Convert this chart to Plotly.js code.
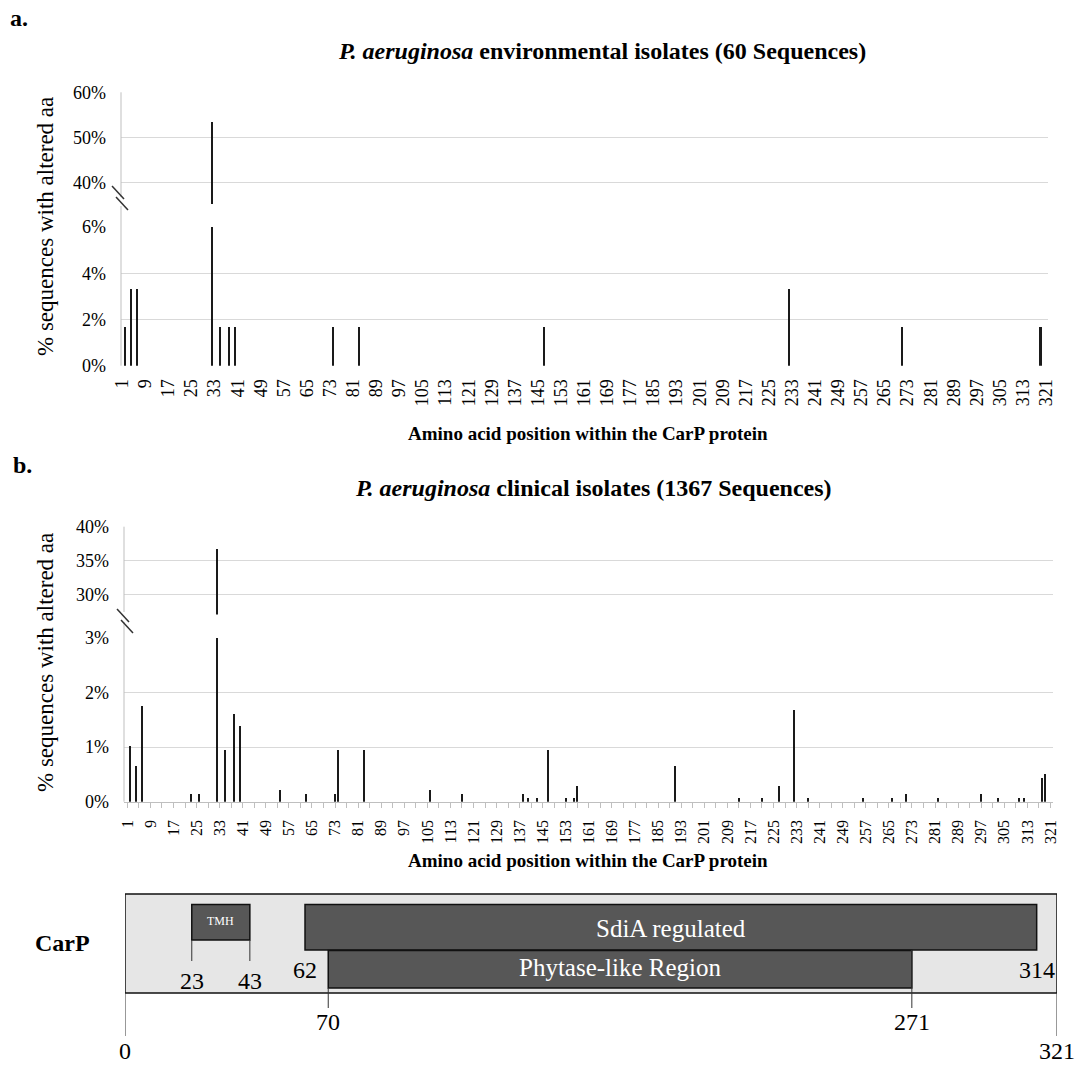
<!DOCTYPE html>
<html>
<head>
<meta charset="utf-8">
<script src="https://cdn.plot.ly/plotly-3.0.1.min.js"></script>
<style>html,body{margin:0;padding:0;background:#fff;}#chart{width:1078px;height:1065px;}</style>
</head>
<body>
<div id="chart"></div>
<script>
// ---------------- DATA ----------------
// Panel a: environmental isolates (60 sequences)
const envPositions = [2, 4, 6, 32, 35, 38, 40, 74, 83, 147, 232, 271, 319];
const envPercent   = [1.67, 3.33, 3.33, 53.33, 1.67, 1.67, 1.67, 1.67, 1.67, 1.67, 3.33, 1.67, 1.67];

// Panel b: clinical isolates (1367 sequences)
const clinPositions = [2, 4, 6, 23, 26, 32, 35, 38, 40, 54, 63, 73, 74, 83,
  106, 117, 138, 140, 143, 147, 153, 156, 157, 191,
  213, 221, 227, 232, 237, 256, 266, 271, 282, 297, 303, 310, 312, 318, 319];
const clinPercent = [1.02, 0.66, 1.76, 0.15, 0.15, 36.72, 0.95, 1.61, 1.39, 0.22, 0.15, 0.15, 0.95, 0.95,
  0.22, 0.15, 0.15, 0.07, 0.07, 0.95, 0.07, 0.07, 0.29, 0.66,
  0.07, 0.07, 0.29, 1.68, 0.07, 0.07, 0.07, 0.15, 0.07, 0.15, 0.07, 0.07, 0.07, 0.44, 0.51];

// x tick labels (every 8th position)
const xTickLabels = ['1','9','17','25','33','41','49','57','65','73','81','89','97','105','113','121',
  '129','137','145','153','161','169','177','185','193','201','209','217','225','233','241','249',
  '257','265','273','281','289','297','305','313','321'];
const xTickValues = xTickLabels.map(Number);

// y tick labels
const aLowTicks = [0, 2, 4, 6];
const aHighTicks = [40, 50, 60];
const bLowTicks = [0, 1, 2, 3];
const bHighTicks = [30, 35, 40];

// CarP protein schematic
const carpLength = 321;
const domainNames  = ['TMH', 'SdiA regulated', 'Phytase-like Region'];
const domainStarts = [23, 62, 70];
const domainEnds   = [43, 314, 271];

// ---------------- LAYOUT HELPERS ----------------
const W = 1078, H = 1065;
const X = px => px / W;
const Y = py => 1 - py / H;
const FONT = 'Liberation Serif, Times New Roman, serif';
const BAR = '#1a1a1a';
const GRID = '#d9d9d9';
const pct = v => v + '%';

function barTrace(xs, ys, xa, ya) {
  return {type: 'bar', x: xs, y: ys, xaxis: xa, yaxis: ya, width: 0.7,
          marker: {color: BAR, line: {width: 0}}, showlegend: false, hoverinfo: 'skip', cliponaxis: true};
}

const data = [
  barTrace(envPositions, envPercent, 'x', 'y'),
  barTrace(envPositions, envPercent, 'x', 'y2'),
  barTrace(clinPositions, clinPercent, 'x2', 'y3'),
  barTrace(clinPositions, clinPercent, 'x2', 'y4'),
  {type: 'scatter', x: [], y: [], xaxis: 'x3', yaxis: 'y5', showlegend: false, hoverinfo: 'skip'}
];

const yCommon = {
  showgrid: true, gridcolor: GRID, gridwidth: 1, zeroline: false, showline: false,
  ticks: '', tickfont: {family: FONT, size: 18, color: '#000'}, ticklabelstandoff: 14, fixedrange: true
};
const xCommon = {
  tickmode: 'array', tickvals: xTickValues, ticktext: xTickLabels, tickangle: -90,
  showgrid: false, zeroline: false, fixedrange: true
};

// shapes
const shapes = [];
function seg(x0, y0, x1, y1, color, width) {
  shapes.push({type: 'line', xref: 'paper', yref: 'paper', x0: X(x0), y0: Y(y0), x1: X(x1), y1: Y(y1),
               line: {color: color, width: width}});
}
// panel a vertical axis with break
seg(121, 92.3, 121, 197, '#bfbfbf', 1);
seg(121, 206, 121, 365.7, '#bfbfbf', 1);
seg(112, 186, 124, 199, '#333', 1.5);
seg(116, 197, 128, 210, '#333', 1.5);
// panel b vertical axis with break
seg(124, 526.7, 124, 612, '#bfbfbf', 1);
seg(124, 622, 124, 801.7, '#bfbfbf', 1);
seg(117, 609, 129, 622, '#333', 1.5);
seg(121, 620, 133, 633, '#333', 1.5);

// CarP schematic (x in protein positions through axis x3)
function rectX(x0, x1, top, bottom, fill, lw) {
  shapes.push({type: 'rect', xref: 'x3', yref: 'paper', x0: x0, x1: x1, y0: Y(bottom), y1: Y(top),
               fillcolor: fill, line: {color: '#111', width: lw}, layer: 'above'});
}
function lineX(xv, top, bottom) {
  shapes.push({type: 'line', xref: 'x3', yref: 'paper', x0: xv, x1: xv, y0: Y(bottom), y1: Y(top),
               line: {color: '#333', width: 1}, layer: 'above'});
}
rectX(0, carpLength, 894, 993, '#e6e6e6', 1.5);
rectX(domainStarts[0], domainEnds[0], 904.5, 940, '#575757', 1.5);
rectX(domainStarts[1], domainEnds[1], 904.5, 950, '#575757', 1.5);
rectX(domainStarts[2], domainEnds[2], 950.5, 988, '#575757', 1.5);
lineX(domainStarts[0], 940, 961);
lineX(domainEnds[0], 940, 961);
lineX(domainStarts[2], 988, 1008);
lineX(domainEnds[2], 950, 1008);
lineX(0, 993, 1036);
lineX(carpLength, 993, 1036);

// annotations
const ann = [];
function txt(text, px, py, size, opts) {
  ann.push(Object.assign({text: text, xref: 'paper', yref: 'paper', x: X(px), y: Y(py),
    xanchor: 'center', yanchor: 'middle', showarrow: false,
    font: {family: FONT, size: size, color: '#000'}}, opts || {}));
}
function txtX(text, xv, py, size, color) {
  ann.push({text: text, xref: 'x3', yref: 'paper', x: xv, y: Y(py), xanchor: 'center', yanchor: 'middle',
    showarrow: false, font: {family: FONT, size: size, color: color || '#000'}});
}
txt('<b>a.</b>', 19, 18, 24);
txt('<b>b.</b>', 22, 465, 24);
txt('<b><i>P. aeruginosa</i> environmental isolates (60 Sequences)</b>', 602, 51, 24);
txt('<b><i>P. aeruginosa</i> clinical isolates (1367 Sequences)</b>', 594, 488, 24);
txt('<b>Amino acid position within the CarP protein</b>', 588, 433, 19);
txt('<b>Amino acid position within the CarP protein</b>', 588, 860, 19);
txt('% sequences with altered aa', 45, 227, 23, {textangle: -90});
txt('% sequences with altered aa', 45, 663, 23, {textangle: -90});
txt('<b>CarP</b>', 62, 943, 24);

txtX(domainNames[0], (domainStarts[0] + domainEnds[0]) / 2, 921, 12, '#fff');
txtX(domainNames[1], (domainStarts[1] + domainEnds[1]) / 2, 928, 25, '#fff');
txtX(domainNames[2], (domainStarts[2] + domainEnds[2]) / 2, 967, 25, '#fff');
txtX(String(domainStarts[0]), domainStarts[0], 981, 24);
txtX(String(domainEnds[0]), domainEnds[0], 981, 24);
txtX(String(domainStarts[1]), domainStarts[1], 970, 24);
txtX(String(domainEnds[1]), domainEnds[1], 970, 24);
txtX(String(domainStarts[2]), domainStarts[2], 1022, 24);
txtX(String(domainEnds[2]), domainEnds[2], 1022, 24);
txtX('0', 0, 1051, 24);
txtX(String(carpLength), carpLength, 1051, 24);

const layout = {
  width: W, height: H, margin: {l: 0, r: 0, t: 0, b: 0},
  paper_bgcolor: '#fff', plot_bgcolor: 'rgba(0,0,0,0)',
  showlegend: false, bargap: 0,
  font: {family: FONT, color: '#000'},
  xaxis: Object.assign({}, xCommon, {domain: [X(121), X(1048)], range: [0.6, 321.6], anchor: 'y',
    ticks: '', showline: false, ticklabelstandoff: 9,
    tickfont: {family: FONT, size: 18, color: '#000'}}),
  yaxis: Object.assign({}, yCommon, {domain: [Y(365.7), Y(227)], range: [0, 6], anchor: 'x',
    tickmode: 'array', tickvals: aLowTicks, ticktext: aLowTicks.map(pct)}),
  yaxis2: Object.assign({}, yCommon, {domain: [Y(203.9), Y(92.3)], range: [35.3, 60], anchor: 'x',
    tickmode: 'array', tickvals: aHighTicks, ticktext: aHighTicks.map(pct)}),
  xaxis2: Object.assign({}, xCommon, {domain: [X(124), X(1053)], range: [-0.15, 321.9], anchor: 'y3',
    showline: true, linecolor: '#bfbfbf', linewidth: 1,
    ticks: 'outside', ticklen: 5, tickcolor: '#bfbfbf', tickwidth: 1, ticklabelstandoff: 6,
    tickfont: {family: FONT, size: 16, color: '#000'},
    minor: {tickmode: 'linear', tick0: 1, dtick: 4, ticks: 'outside', ticklen: 5, tickcolor: '#bfbfbf', tickwidth: 1}}),
  yaxis3: Object.assign({}, yCommon, {domain: [Y(801.7), Y(638)], range: [0, 3], anchor: 'x2',
    tickmode: 'array', tickvals: bLowTicks, ticktext: bLowTicks.map(pct)}),
  yaxis4: Object.assign({}, yCommon, {domain: [Y(614.6), Y(526.7)], range: [27, 40], anchor: 'x2',
    tickmode: 'array', tickvals: bHighTicks, ticktext: bHighTicks.map(pct)}),
  xaxis3: {domain: [X(125), X(1057)], range: [0, carpLength], anchor: 'y5', visible: false, fixedrange: true},
  yaxis5: {domain: [0, 0.1], range: [0, 1], anchor: 'x3', visible: false, fixedrange: true},
  shapes: shapes,
  annotations: ann
};

Plotly.newPlot('chart', data, layout, {staticPlot: true, displayModeBar: false});
</script>
</body>
</html>
